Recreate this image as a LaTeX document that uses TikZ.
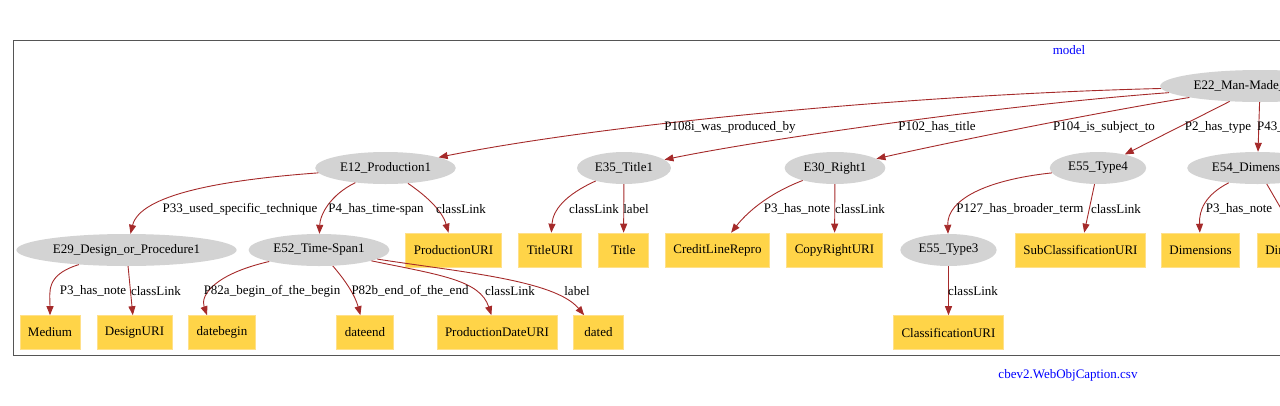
\documentclass[tikz,border=0pt]{standalone}
\usepackage{fontspec}
\setmainfont{Liberation Serif}
\usetikzlibrary{arrows.meta,shapes.geometric}
\definecolor{relcol}{HTML}{A52A2A}
\definecolor{entfill}{HTML}{D3D3D3}
\definecolor{litfill}{HTML}{FFD448}
\definecolor{litedge}{HTML}{FFE08A}
\definecolor{framecol}{HTML}{555555}

\begin{document}
\begin{tikzpicture}[x=1pt,y=-1pt,font=\fontsize{13}{15}\selectfont,
  ent/.style={ellipse,fill=entfill,minimum height=32pt,inner xsep=4.2pt,inner ysep=2pt},
  lit/.style={rectangle,fill=litfill,draw=litedge,line width=0.6pt,
              minimum height=34pt,minimum width=50pt,inner xsep=8pt},
  rel/.style={draw=relcol,line width=0.9pt,-{Triangle[length=9pt,width=7pt]}},
  elabel/.style={inner sep=0pt},
  frametitle/.style={text=blue,inner sep=0pt}]
  \useasboundingbox (0,0) rectangle (1280,405);
  \clip (0,0) rectangle (1280,405);
  \draw[framecol,line width=1pt] (13,40) rectangle (1300,355.5);
  \node[frametitle] (mdl) at (1069,50)  {model};
  \node[frametitle] (src) at (1068,375) {cbev2.WebObjCaption.csv};

  % classes
  \node[ent,anchor=west] (e22)  at (1160,86)    {E22\_Man-Made\_Object1};
  \node[ent]             (e12)  at (385.5,168)  {E12\_Production1};
  \node[ent]             (e35)  at (624,168)    {E35\_Title1};
  \node[ent]             (e30)  at (835,168)    {E30\_Right1};
  \node[ent]             (e55b) at (1098,168)   {E55\_Type4};
  \node[ent,anchor=west] (e54)  at (1187,168)   {E54\_Dimension1};
  \node[ent]             (e29)  at (126.5,250)  {E29\_Design\_or\_Procedure1};
  \node[ent]             (e52)  at (319,250)    {E52\_Time-Span1};
  \node[ent]             (e55a) at (948.5,250)  {E55\_Type3};

  % literals
  \node[lit]             (produri)  at (453.5,250)  {ProductionURI};
  \node[lit]             (titleuri) at (550,250)    {TitleURI};
  \node[lit]             (title)    at (623.5,250)  {Title};
  \node[lit]             (credit)   at (717.5,250)  {CreditLineRepro};
  \node[lit]             (copyuri)  at (834.5,250)  {CopyRightURI};
  \node[lit]             (subcluri) at (1080.5,250) {SubClassificationURI};
  \node[lit]             (dims)     at (1200.5,250) {Dimensions};
  \node[lit,anchor=west] (dimuri)   at (1257,250)   {DimensionURI};
  \node[lit]             (medium)   at (50,332.5)   {Medium};
  \node[lit]             (desuri)   at (134.5,332.5) {DesignURI};
  \node[lit]             (dbegin)   at (222,332.5)  {datebegin};
  \node[lit]             (dend)     at (365,332.5)  {dateend};
  \node[lit]             (pdateuri) at (497,332.5)  {ProductionDateURI};
  \node[lit]             (dated)    at (598.5,332.5) {dated};
  \node[lit]             (clsuri)   at (948.5,332.5) {ClassificationURI};

  % properties
  \draw[rel] (e22) .. controls (900,95) and (600,125) .. (e12);
  \draw[rel] (e22) .. controls (1000,105) and (760,140) .. (e35);
  \draw[rel] (e22) .. controls (1100,112) and (960,140) .. (e30);
  \draw[rel] (e22) -- (e55b);
  \draw[rel] (e22) -- (e54);
  \draw[rel] (e12) .. controls (220,180) and (140,195) .. (e29);
  \draw[rel] (e12) .. controls (330,195) and (320,215) .. (e52);
  \draw[rel] (e12) .. controls (425,195) and (442,210) .. (produri);
  \draw[rel] (e35) .. controls (565,195) and (553,210) .. (titleuri);
  \draw[rel] (e35) -- (title);
  \draw[rel] (e30) .. controls (765,195) and (745,215) .. (credit);
  \draw[rel] (e30) -- (copyuri);
  \draw[rel] (e55b) .. controls (985,180) and (947,200) .. (e55a);
  \draw[rel] (e55b) -- (subcluri);
  \draw[rel] (e54) .. controls (1205,195) and (1199,210) .. (dims);
  \draw[rel] (e54) -- (dimuri);
  \draw[rel] (e29) .. controls (45,275) and (50,292) .. (medium);
  \draw[rel] (e29) -- (desuri);
  \draw[rel] (e52) .. controls (215,274) and (200,295) .. ([xshift=-15pt]dbegin.north);
  \draw[rel] (e52) .. controls (345,280) and (355,295) .. (dend);
  \draw[rel] (e52) .. controls (440,275) and (480,280) .. (pdateuri);
  \draw[rel] (e52) .. controls (460,272) and (555,280) .. (dated);
  \draw[rel] (e55a) -- (clsuri);

  \node[elabel] (l_p108)  at (730,127)  {P108i\_was\_produced\_by};
  \node[elabel] (l_p102)  at (937,127)  {P102\_has\_title};
  \node[elabel] (l_p104)  at (1104,127) {P104\_is\_subject\_to};
  \node[elabel] (l_p2)    at (1218,127) {P2\_has\_type};
  \node[elabel,anchor=west] (l_p43) at (1257,127) {P43\_has\_dimension};
  \node[elabel] (l_p33)   at (240,209)  {P33\_used\_specific\_technique};
  \node[elabel] (l_p4)    at (376,209)  {P4\_has\_time-span};
  \node[elabel] (l_cl1)   at (461,209)  {classLink};
  \node[elabel] (l_cl2)   at (594,209)  {classLink};
  \node[elabel] (l_lb1)   at (636,209)  {label};
  \node[elabel] (l_p3a)   at (797,209)  {P3\_has\_note};
  \node[elabel] (l_cl3)   at (860,209)  {classLink};
  \node[elabel] (l_p127)  at (1020,209) {P127\_has\_broader\_term};
  \node[elabel] (l_cl4)   at (1116,209) {classLink};
  \node[elabel] (l_p3b)   at (1239,209) {P3\_has\_note};
  \node[elabel] (l_p3c)   at (93,291)   {P3\_has\_note};
  \node[elabel] (l_cl5)   at (156,291)  {classLink};
  \node[elabel] (l_p82a)  at (272,291)  {P82a\_begin\_of\_the\_begin};
  \node[elabel] (l_p82b)  at (410,291)  {P82b\_end\_of\_the\_end};
  \node[elabel] (l_cl6)   at (510,291)  {classLink};
  \node[elabel] (l_lb2)   at (577,291)  {label};
  \node[elabel] (l_cl7)   at (973,291)  {classLink};
\end{tikzpicture}
\end{document}
